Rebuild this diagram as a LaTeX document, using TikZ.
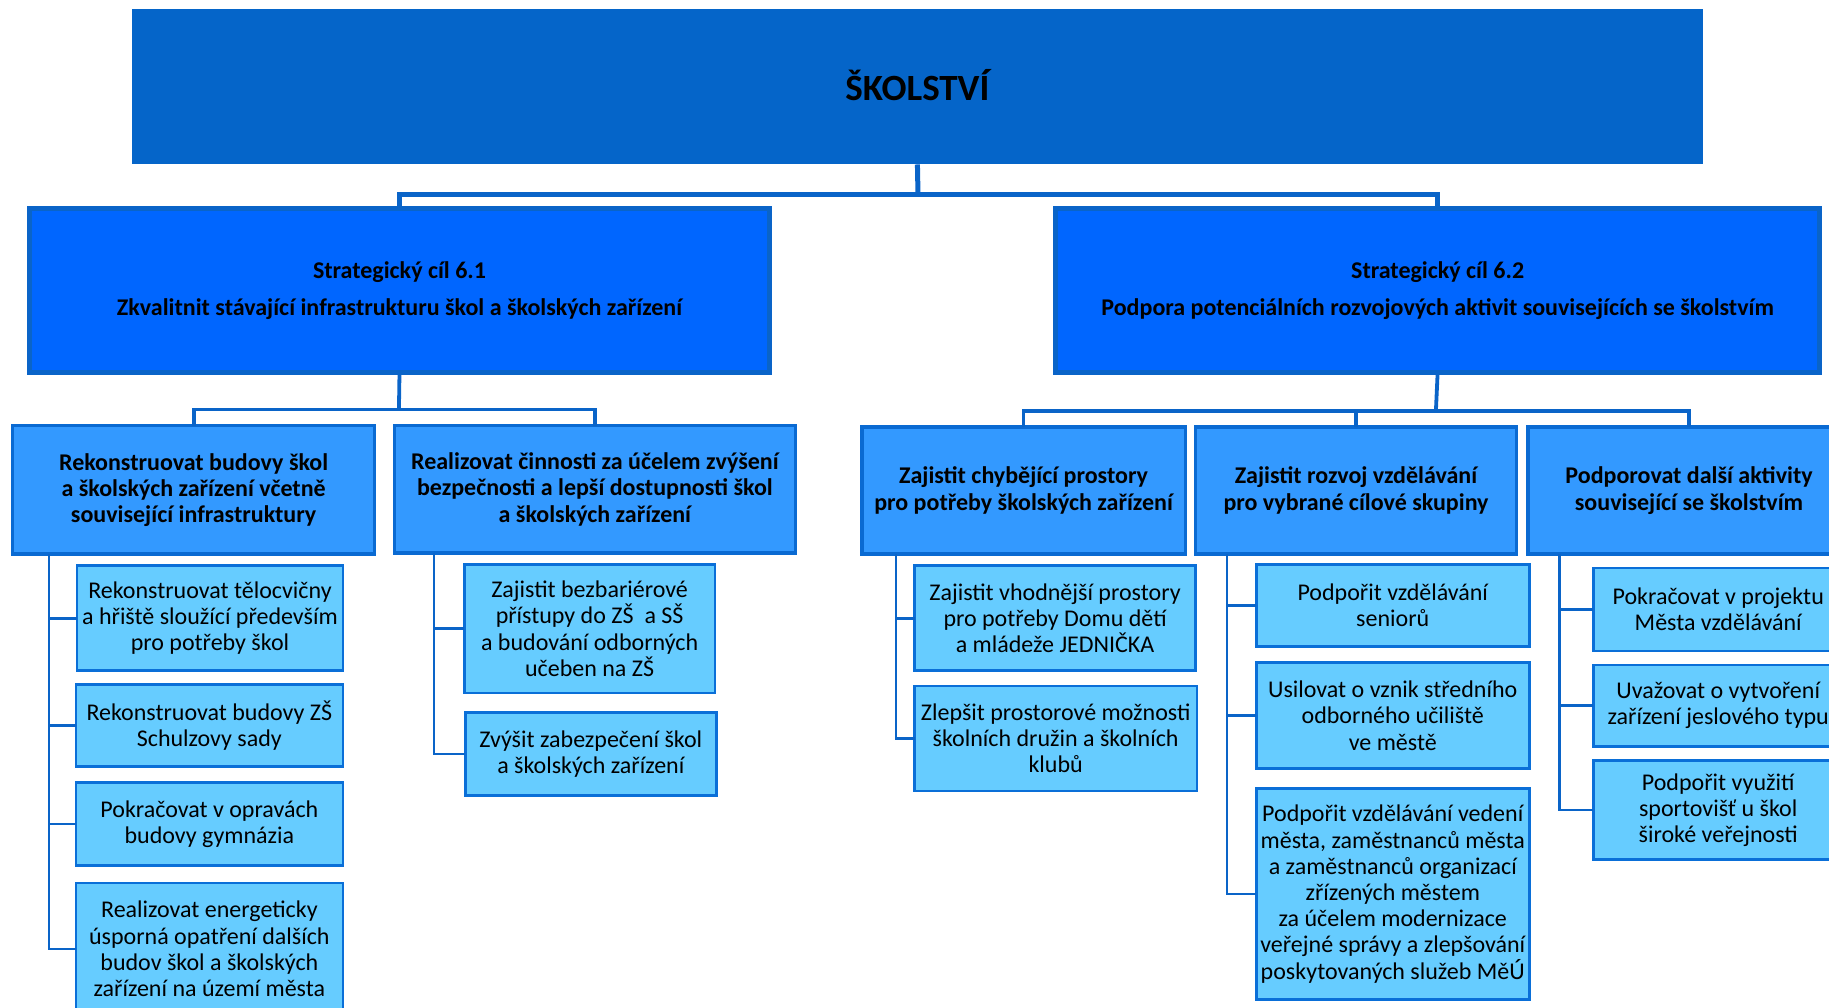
\documentclass[tikz,border=0pt]{standalone}
\usepackage{fontspec}
\setmainfont{Carlito}
\definecolor{topblue}{HTML}{0565C9}
\definecolor{stratfill}{HTML}{0066FF}
\definecolor{stratborder}{HTML}{0A64C8}
\definecolor{midfill}{HTML}{3399FF}
\definecolor{midborder}{HTML}{0A6AD2}
\definecolor{leaffill}{HTML}{66CCFF}
\definecolor{leafborder}{HTML}{0A6FD8}
\definecolor{conncol}{HTML}{0A64C8}
\newcommand\bx[7]{\node[#2, minimum width={(#5-#3)*0.5833pt}, minimum height={(#6-#4)*0.5833pt}] (#1) at ({(#3+#5)/2},{(#4+#6)/2}) {#7};}
\tikzset{
  box/.style={rectangle, inner sep=0pt, outer sep=0pt, align=center, text=black},
  topbox/.style={box, fill=topblue, font=\fontsize{18.5}{22}\selectfont\bfseries},
  stratbox/.style={box, fill=stratfill, draw=stratborder, line width=2.4pt, font=\fontsize{12}{14}\selectfont\bfseries},
  midbox/.style={box, fill=midfill, draw=midborder, line width=1.6pt, font=\fontsize{12}{13.1}\selectfont\bfseries},
  leafbox/.style={box, fill=leaffill, draw=leafborder, line width=1.3pt, font=\fontsize{12}{13.1}\selectfont},
  conn0/.style={draw=conncol, line width=2.5pt},
  conn1/.style={draw=conncol, line width=1.9pt},
  conn2/.style={draw=conncol, line width=1.3pt},
}
\begin{document}
\begin{tikzpicture}[x=0.5833pt, y=-0.5833pt]
\useasboundingbox (0,0) rectangle (1568,864);
\clip (0,0) rectangle (1568,864);
% top
\bx{top}{topbox}{113}{8}{1460}{141}{\raisebox{1.8pt}{ŠKOLSTVÍ}}
% strategic
\bx{s1}{stratbox}{25}{179}{660}{319}{Strategický cíl 6.1\\[4.7pt]Zkvalitnit stávající infrastrukturu škol a školských zařízení}
\bx{s2}{stratbox}{905}{179}{1560}{319}{Strategický cíl 6.2\\[4.7pt]Podpora potenciálních rozvojových aktivit souvisejících se školstvím}
% mid level
\bx{m1}{midbox}{11}{365}{321}{475}{Rekonstruovat budovy škol\\a školských zařízení včetně\\související infrastruktury}
\bx{m2}{midbox}{338}{365}{682}{474}{Realizovat činnosti za účelem zvýšení\\bezpečnosti a lepší dostupnosti škol\\a školských zařízení}
\bx{m3}{midbox}{739}{366}{1016}{475}{Zajistit chybějící prostory\\pro potřeby školských zařízení}
\bx{m4}{midbox}{1025}{366}{1300}{475}{Zajistit rozvoj vzdělávání\\pro vybrané cílové skupiny}
\bx{m5}{midbox}{1310}{366}{1586}{475}{Podporovat další aktivity\\související se školstvím}
% leaves under m1
\bx{a1}{leafbox}{66}{485}{294}{575}{Rekonstruovat tělocvičny\\a hřiště sloužící především\\pro potřeby škol}
\bx{a2}{leafbox}{65}{587}{294}{657}{Rekonstruovat budovy ZŠ\\Schulzovy sady}
\bx{a3}{leafbox}{65}{671}{294}{742}{Pokračovat v opravách\\budovy gymnázia}
\bx{a4}{leafbox}{65}{757}{294}{870}{Realizovat energeticky\\úsporná opatření dalších\\budov škol a školských\\zařízení na území města}
% leaves under m2
\bx{b1}{leafbox}{398}{484}{613}{594}{Zajistit bezbariérové\\přístupy do ZŠ~ a SŠ\\a budování odborných\\učeben na ZŠ}
\bx{b2}{leafbox}{399}{611}{614}{682}{Zvýšit zabezpečení škol\\a školských zařízení}
% leaves under m3
\bx{c1}{leafbox}{784}{485}{1025}{575}{Zajistit vhodnější prostory\\pro potřeby Domu dětí\\a mládeže JEDNIČKA}
\bx{c2}{leafbox}{784}{588}{1026}{678}{Zlepšit prostorové možnosti\\školních družin a školních\\klubů}
% leaves under m4
\bx{d1}{leafbox}{1077}{484}{1311}{554}{Podpořit vzdělávání\\seniorů}
\bx{d2}{leafbox}{1077}{568}{1311}{659}{Usilovat o vznik středního\\odborného učiliště\\ve městě}
\bx{d3}{leafbox}{1077}{676}{1311}{857}{Podpořit vzdělávání vedení\\města, zaměstnanců města\\a zaměstnanců organizací\\zřízených městem\\za účelem modernizace\\veřejné správy a zlepšování\\poskytovaných služeb MěÚ}
% leaves under m5
\bx{e1}{leafbox}{1366}{487}{1580}{558}{Pokračovat v projektu\\Města vzdělávání}
\bx{e2}{leafbox}{1366}{570}{1580}{640}{Uvažovat o vytvoření\\zařízení jeslového typu}
\bx{e3}{leafbox}{1366}{652}{1580}{737}{Podpořit využití\\sportovišť u škol\\široké veřejnosti}
% connectors top
\coordinate (bus0) at (787,167);
\draw[conn0] (top.south) -- (bus0);
\draw[conn0] (bus0) -| (s1.north);
\draw[conn0] (bus0) -| (s2.north);
% under s1
\coordinate (bus1) at (342,351);
\draw[conn1] (s1.south) -- (bus1);
\draw[conn1] (bus1) -| (m1.north);
\draw[conn1] (bus1) -| (m2.north);
% under s2
\coordinate (bus2) at (1231,352);
\draw[conn1] (s2.south) -- (bus2);
\draw[conn1] (bus2) -| (m3.north);
\draw[conn1] (bus2) -| (m4.north);
\draw[conn1] (bus2) -| (m5.north);
% leaf connectors
\foreach \m/\x/\leaves in {m1/42/{a1,a2,a3,a4}, m2/372/{b1,b2}, m3/768/{c1,c2}, m4/1052/{d1,d2,d3}, m5/1337/{e1,e2,e3}}{
  \foreach \l in \leaves {
    \draw[conn2] (\m.south -| \x,0) |- (\l.west);
  }
}
\end{tikzpicture}
\end{document}
